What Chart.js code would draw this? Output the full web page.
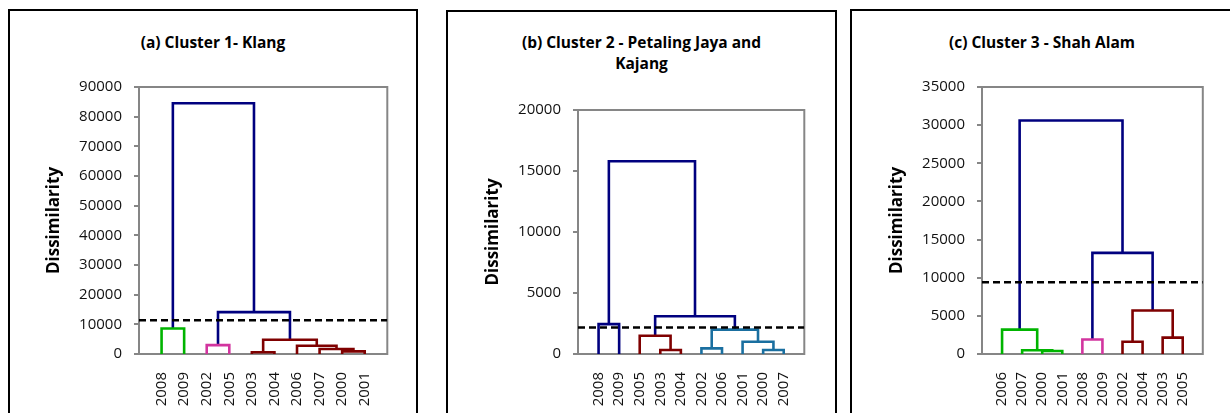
<!DOCTYPE html>
<html>
<head>
<meta charset="utf-8">
<script src="https://cdn.jsdelivr.net/npm/chart.js@4.4.1/dist/chart.umd.min.js"></script>
<style>
    html, body { margin: 0; padding: 0; background: #fff; width: 1230px; height: 413px; overflow: hidden; }
    .panel { position: absolute; border: 2px solid #000; box-sizing: border-box; height: 430px; }
    .title { position: absolute; left: 0; right: 0; text-align: center; font-family: "Open Sans", sans-serif;
             font-weight: bold; font-size: 15.5px; line-height: 21px; color: #000; }
    canvas { position: absolute; }
</style>
</head>
<body>
<div class="panel" style="left:8px;top:9px;width:410px;">
    <div class="title" style="top:21px;">(a) Cluster 1- Klang</div>
</div>
<div class="panel" style="left:446px;top:10px;width:391px;">
    <div class="title" style="top:20px;">(b) Cluster 2 - Petaling Jaya and<br>Kajang</div>
</div>
<div class="panel" style="left:850px;top:9px;width:384px;">
    <div class="title" style="top:21px;">(c) Cluster 3 - Shah Alam</div>
</div>

<canvas id="chart-a" width="363" height="358" style="left:39px;top:66px;"></canvas>
<canvas id="chart-b" width="343" height="335" style="left:478px;top:89px;"></canvas>
<canvas id="chart-c" width="338" height="358" style="left:882px;top:66px;"></canvas>

<script>
// leaf order along the x axis, merges as [left child, right child] (leaves 0-9, merged nodes 10+)
const leavesA = ["2008", "2009", "2002", "2005", "2003", "2004", "2006", "2007", "2000", "2001"];
const mergesA = [[4, 5], [8, 9], [7, 11], [6, 12], [10, 13], [2, 3], [0, 1], [15, 14], [16, 17]];
const heightsA = [600, 900, 1700, 2800, 4800, 3000, 8600, 14100, 84500];
const groupsA = ["red", "red", "red", "red", "red", "pink", "green", "navy", "navy"];
const yTicksA = [0, 10000, 20000, 30000, 40000, 50000, 60000, 70000, 80000, 90000];
const cutA = 11400;

const leavesB = ["2008", "2009", "2005", "2003", "2004", "2002", "2006", "2001", "2000", "2007"];
const mergesB = [[3, 4], [2, 10], [5, 6], [8, 9], [7, 13], [12, 14], [0, 1], [11, 15], [16, 17]];
const heightsB = [330, 1500, 460, 330, 1000, 2000, 2450, 3100, 15800];
const groupsB = ["red", "red", "teal", "teal", "teal", "teal", "navy", "navy", "navy"];
const yTicksB = [0, 5000, 10000, 15000, 20000];
const cutB = 2170;

const leavesC = ["2006", "2007", "2000", "2001", "2008", "2009", "2002", "2004", "2003", "2005"];
const mergesC = [[2, 3], [1, 10], [0, 11], [4, 5], [6, 7], [8, 9], [14, 15], [13, 16], [12, 17]];
const heightsC = [400, 500, 3200, 1900, 1600, 2150, 5700, 13250, 30600];
const groupsC = ["green", "green", "green", "pink", "red", "red", "red", "navy", "navy"];
const yTicksC = [0, 5000, 10000, 15000, 20000, 25000, 30000, 35000];
const cutC = 9400;

const palette = {
    navy: "#00007f",
    red: "#7f0000",
    green: "#00b400",
    pink: "#d2359f",
    teal: "#1a6fa0"
};

const tickFont = { family: "'Open Sans', sans-serif", size: 15 };
const plotFrame = {
    id: "plotFrame",
    beforeDatasetsDraw(chart) {
        const { ctx, chartArea: a } = chart;
        ctx.save();
        ctx.strokeStyle = "#868686";
        ctx.lineWidth = 2;
        ctx.strokeRect(a.left, a.top, a.right - a.left, a.bottom - a.top);
        ctx.restore();
    }
};

function linkDatasets(leaves, merges, heights, groups) {
    const xs = leaves.map((_, i) => i + 1);
    const ys = leaves.map(() => 0);
    const sets = [];
    merges.forEach(([a, b], k) => {
        const h = heights[k];
        sets.push({
            data: [{ x: xs[a], y: ys[a] }, { x: xs[a], y: h }, { x: xs[b], y: h }, { x: xs[b], y: ys[b] }],
            borderColor: palette[groups[k]],
            borderWidth: 2.6,
            showLine: true,
            pointRadius: 0,
            tension: 0,
            borderJoinStyle: "miter",
            order: 1
        });
        xs.push((xs[a] + xs[b]) / 2);
        ys.push(h);
    });
    return sets;
}

function makeChart(id, leaves, merges, heights, groups, yTicks, cut) {
    const n = leaves.length;
    const cutLine = {
        data: [{ x: 0, y: cut }, { x: n + 1, y: cut }],
        borderColor: "#000",
        borderWidth: 2.4,
        borderDash: [7, 4],
        showLine: true,
        pointRadius: 0,
        order: 0
    };
    return new Chart(document.getElementById(id), {
        type: "scatter",
        data: { datasets: [cutLine, ...linkDatasets(leaves, merges, heights, groups)] },
        options: {
            responsive: false,
            animation: false,
            events: [],
            layout: { padding: { top: 14, right: 14, left: 0, bottom: 0 } },
            plugins: { legend: { display: false }, tooltip: { enabled: false } },
            scales: {
                x: {
                    type: "linear",
                    min: 0,
                    max: n + 1,
                    afterBuildTicks: (s) => { s.ticks = leaves.map((_, i) => ({ value: i + 1 })); },
                    afterFit: (s) => { s.height = 70; },
                    grid: { display: false, drawTicks: false },
                    border: { display: false },
                    ticks: {
                        autoSkip: false,
                        minRotation: 90,
                        maxRotation: 90,
                        padding: 18,
                        color: "#111",
                        font: tickFont,
                        callback: (v) => leaves[Math.round(v) - 1]
                    }
                },
                y: {
                    min: 0,
                    max: yTicks[yTicks.length - 1],
                    afterBuildTicks: (s) => { s.ticks = yTicks.map((v) => ({ value: v })); },
                    afterFit: (s) => { s.width = 100; },
                    grid: { drawOnChartArea: false, drawTicks: true, tickLength: 5, color: "#868686", lineWidth: 2 },
                    border: { display: false },
                    ticks: { padding: 12, color: "#111", font: tickFont, callback: (v) => String(v) },
                    title: {
                        display: true,
                        text: "Dissimilarity",
                        color: "#000",
                        font: { family: "'Open Sans', sans-serif", size: 17, weight: "bold", lineHeight: 1.2 },
                        padding: { top: 5, bottom: 0 }
                    }
                }
            }
        },
        plugins: [plotFrame]
    });
}

makeChart("chart-a", leavesA, mergesA, heightsA, groupsA, yTicksA, cutA);
makeChart("chart-b", leavesB, mergesB, heightsB, groupsB, yTicksB, cutB);
makeChart("chart-c", leavesC, mergesC, heightsC, groupsC, yTicksC, cutC);
</script>
</body>
</html>
